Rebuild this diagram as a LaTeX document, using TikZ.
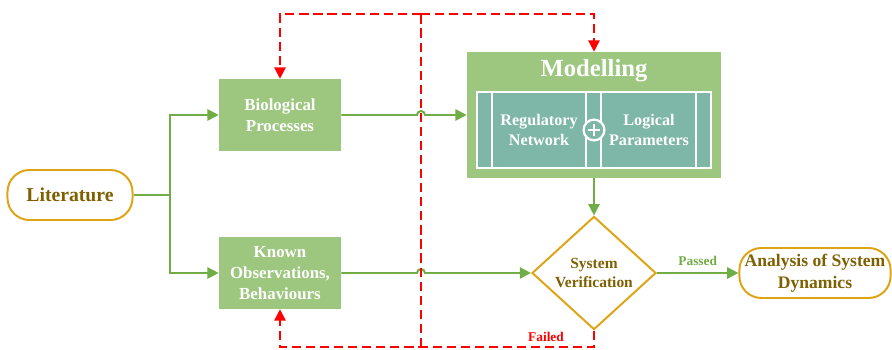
\documentclass[tikz,border=0pt]{standalone}
\usepackage{fontspec}
\setmainfont{Liberation Serif}
\usepackage{xcolor}
\usetikzlibrary{arrows.meta,positioning,shapes.geometric}
\definecolor{linegreen}{HTML}{70AD47}
\definecolor{boxgreen}{HTML}{9DC77F}
\definecolor{bandteal}{HTML}{7EB6A8}
\definecolor{gold}{HTML}{DEA414}
\definecolor{darkgold}{HTML}{7F6000}
\definecolor{failred}{HTML}{FF0000}

\begin{document}
\begin{tikzpicture}[x=0.025cm,y=0.025cm,
  procbox/.style={fill=boxgreen, minimum width=3.05cm, minimum height=1.8cm,
    text=white, align=center, font=\bfseries\fontsize{12}{15}\selectfont},
  pill/.style={draw=gold, line width=1.4pt, rounded corners=0.55cm, fill=white,
    minimum height=1.25cm, text=darkgold, align=center},
  decision/.style={draw=gold, line width=1.4pt, diamond, aspect=1.1, inner sep=0pt,
    minimum width=3.1cm, minimum height=2.83cm, text=darkgold, align=center,
    font=\bfseries\fontsize{11}{13}\selectfont},
  innertext/.style={text=white, align=center, font=\bfseries\fontsize{11.5}{13.8}\selectfont},
  flow/.style={draw=linegreen, line width=1.4pt, -{Triangle[length=8pt,width=8pt]}},
  fail/.style={draw=failred, line width=1.1pt, dash pattern=on 6.5pt off 3.5pt},
  failtip/.style={-{Triangle[length=8pt,width=8pt]}},
  lbl/.style={font=\bfseries\fontsize{9.5}{11}\selectfont}
]
\useasboundingbox (0,0) rectangle (892,349);

% main boxes
\node[pill, minimum width=3.125cm, font=\bfseries\fontsize{14}{16}\selectfont] (lit) at (70,154) {Literature};
\node[procbox] (bio) at (280,234) {Biological\\Processes};
\node[procbox] (known) at (280,76) {Known\\Observations,\\Behaviours};

% modelling block
\node[fill=boxgreen, minimum width=6.35cm, minimum height=3.15cm] (model) at (594,234) {};
\node[text=white, font=\bfseries\fontsize{17.5}{19}\selectfont] (mtitle) at (594,278) {Modelling};
\node[fill=bandteal, draw=white, line width=1.1pt, minimum width=5.85cm, minimum height=1.9cm] (band) at (594,219) {};
\foreach \xx in {492,586,601,696}
  \draw[white, line width=1.1pt] (band.north -| \xx,0) -- (band.south -| \xx,0);
\node[innertext] (regnet) at (539,219) {Regulatory\\Network};
\node[innertext] (logpar) at (649,219) {Logical\\Parameters};
\node[circle, draw=white, fill=bandteal, line width=1.6pt, minimum size=0.52cm, inner sep=0pt] (plus) at (594,219) {};
\draw[white, line width=1.1pt] ([xshift=-0.16cm]plus.center) -- ([xshift=0.16cm]plus.center);
\draw[white, line width=1.1pt] ([yshift=-0.16cm]plus.center) -- ([yshift=0.16cm]plus.center);

\node[decision] (verif) at (594,76) {System\\Verification};
\node[pill, minimum width=3.78cm, font=\bfseries\fontsize{12.5}{15.5}\selectfont] (ana) at (815,76) {Analysis of System\\Dynamics};

% feedback corners
\coordinate (fbtop) at (421,335);
\coordinate (fbbot) at (421,2);

% green flow
\coordinate (split) at (170,154);
\draw[flow] (lit.east) -- (split) |- (bio.west);
\draw[flow] (split) |- (known.west);
\draw[flow] (bio.east) -- ([xshift=-0.1cm]bio.east -| fbtop)
  arc[start angle=180, end angle=0, radius=0.1cm] -- (model.west);
\draw[flow] (known.east) -- ([xshift=-0.1cm]known.east -| fbtop)
  arc[start angle=180, end angle=0, radius=0.1cm] -- (verif.west);
\draw[flow] (model.south) -- (verif.north);
\draw[flow] (verif.east) -- node[above=1pt, lbl, text=linegreen] {Passed} (ana.west);

% red feedback
\draw[fail, failtip] (verif.south) |- (known.south |- fbbot) -- (known.south);
\draw[fail] (fbbot) -- (fbtop);
\draw[fail, failtip] (fbtop) -| (bio.north);
\draw[fail, failtip] (fbtop) -| (model.north);
\node[lbl, text=failred] (failed) at (546,12) {Failed};
\end{tikzpicture}
\end{document}
